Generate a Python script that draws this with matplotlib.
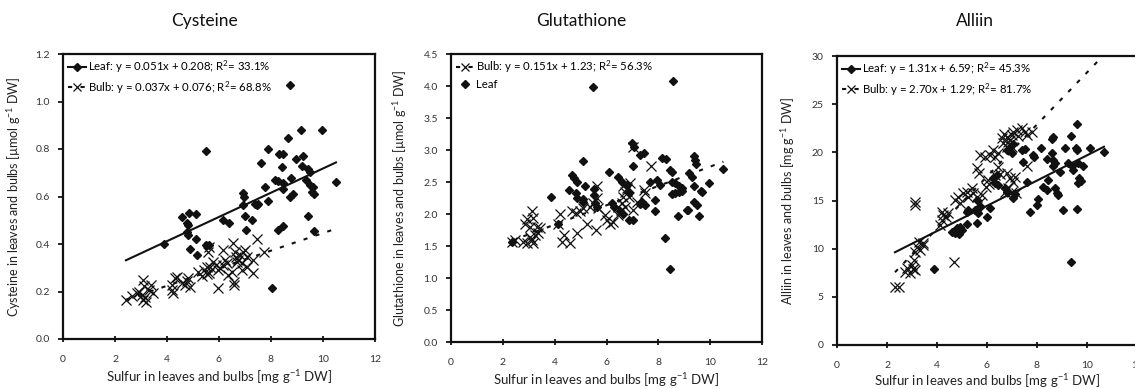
import numpy as np
import matplotlib
matplotlib.use('Agg')
import matplotlib.pyplot as plt
from matplotlib.lines import Line2D

plt.rcParams['font.family'] = ['Lato', 'DejaVu Sans']
plt.rcParams['mathtext.fontset'] = 'custom'
plt.rcParams['mathtext.rm'] = 'Lato'
plt.rcParams['mathtext.default'] = 'regular'

# ---------------- data ----------------
titles = ["Cysteine", "Glutathione", "Alliin"]
ylabels = ["Cysteine in leaves and bulbs [µmol g$^{-1}$ DW]",
           "Glutathione in leaves and bulbs [µmol g$^{-1}$ DW]",
           "Alliin in leaves and bulbs [mg g$^{-1}$ DW]"]
xlabel = "Sulfur in leaves and bulbs [mg g$^{-1}$ DW]"
ymax = [1.2, 4.5, 30]
ystep = [0.2, 0.5, 5]
ydec = [1, 1, 0]

# fits: slope, intercept, R2 (%)
leaf_fit = [("0.051", "0.208", "33.1"), None, ("1.31", "6.59", "45.3")]
bulb_fit = [("0.037", "0.076", "68.8"), ("0.151", "1.23", "56.3"), ("2.70", "1.29", "81.7")]

cys_leaf_x = [8.73, 9.14, 9.95, 8.67, 5.5, 7.9, 8.32, 8.47, 7.62, 8.96, 9.22, 8.41, 9.2,
              9.43, 9.5, 8.77, 8.15, 8.26, 8.47, 9.33, 9.5, 9.6, 10.5, 7.77, 8.47, 6.93,
              6.96, 8.73, 8.86, 9.56, 9.65, 6.93, 7.38, 7.45, 7.51, 7.87, 4.56, 4.85, 5.1,
              4.78, 4.82, 6.17, 6.4, 7.0, 7.28, 4.76, 4.8, 7.04, 8.45, 8.28, 9.43, 9.65,
              3.9, 5.1, 4.88, 5.17, 5.5, 5.63, 8.03]
cys_leaf_y = [1.07, 0.88, 0.88, 0.845, 0.79, 0.80, 0.78, 0.78, 0.74, 0.76, 0.77, 0.725, 0.73,
              0.715, 0.705, 0.68, 0.67, 0.665, 0.655, 0.67, 0.65, 0.64, 0.66, 0.64, 0.63, 0.615,
              0.60, 0.60, 0.61, 0.62, 0.61, 0.565, 0.57, 0.565, 0.57, 0.58, 0.515, 0.53, 0.525,
              0.49, 0.48, 0.50, 0.487, 0.52, 0.50, 0.45, 0.44, 0.46, 0.475, 0.46, 0.52, 0.456,
              0.40, 0.42, 0.378, 0.354, 0.396, 0.396, 0.213]
cys_bulb_x = [2.42, 2.64, 2.83, 2.94, 3.03, 3.09, 3.15, 3.19, 3.09, 3.13, 3.32, 3.47, 3.37,
              4.18, 4.18, 4.31, 4.37, 4.24, 4.56, 4.69, 4.82, 4.88, 4.78, 5.2, 5.33, 5.42,
              5.55, 5.53, 5.65, 5.63, 5.63, 5.59, 5.76, 5.88, 5.95, 6.04, 5.97, 6.17, 6.23,
              6.3, 6.17, 6.55, 6.62, 6.65, 6.68, 6.74, 6.81, 6.87, 6.93, 7.0, 7.06, 6.36,
              6.49, 6.58, 6.58, 6.87, 7.06, 7.32, 7.3, 7.45, 7.73]
cys_bulb_y = [0.164, 0.18, 0.192, 0.2, 0.185, 0.164, 0.178, 0.157, 0.25, 0.223, 0.206, 0.195,
              0.227, 0.227, 0.206, 0.256, 0.262, 0.195, 0.234, 0.227, 0.256, 0.22, 0.244, 0.283,
              0.265, 0.29, 0.302, 0.274, 0.304, 0.28, 0.389, 0.368, 0.325, 0.31, 0.29, 0.298,
              0.213, 0.375, 0.333, 0.319, 0.31, 0.403, 0.368, 0.347, 0.325, 0.333, 0.354, 0.319,
              0.368, 0.375, 0.347, 0.27, 0.283, 0.241, 0.227, 0.29, 0.304, 0.333, 0.28, 0.42,
              0.368]

glu_leaf_x = [5.46, 8.58, 6.98, 7.07, 7.3, 7.45, 8.13, 8.3, 5.08, 7.04, 8.46, 8.52, 9.38,
              9.42, 9.46, 9.2, 9.3, 10.51, 6.11, 4.66, 4.75, 4.88, 5.17, 4.57, 4.83, 3.85,
              5.08, 5.5, 5.52, 6.46, 6.59, 6.78, 6.88, 7.68, 7.94, 8.07, 8.52, 8.65, 8.78,
              8.91, 8.52, 8.65, 8.78, 8.91, 9.38, 9.64, 9.97, 7.88, 7.36, 7.3, 9.38, 9.49,
              9.14, 9.55, 8.74, 7.01, 8.26, 8.46, 4.14, 2.34, 5.56, 5.63, 6.2, 6.29, 6.53,
              6.63, 4.85, 5.1, 6.85, 7.49, 7.88, 9.1, 9.68]
glu_leaf_y = [3.99, 4.08, 3.11, 3.04, 2.92, 2.96, 2.88, 2.86, 2.83, 2.75, 2.69, 2.65, 2.9,
              2.84, 2.78, 2.64, 2.58, 2.7, 2.66, 2.61, 2.56, 2.5, 2.44, 2.37, 2.33, 2.26,
              2.23, 2.39, 2.3, 2.58, 2.5, 2.45, 2.35, 2.5, 2.53, 2.45, 2.5, 2.48, 2.44,
              2.4, 2.32, 2.33, 2.35, 2.36, 2.44, 2.36, 2.48, 2.22, 2.19, 2.16, 2.19, 2.14,
              2.07, 1.97, 1.97, 1.9, 1.62, 1.14, 1.85, 1.57, 2.17, 2.11, 2.17, 2.11, 2.04,
              2.0, 2.25, 2.19, 1.9, 2.14, 2.04, 2.06, 2.35]
glu_bulb_x = [2.34, 2.47, 2.79, 2.92, 2.86, 2.95, 3.12, 3.18, 3.05, 3.31, 3.37, 3.44, 3.12,
              3.16, 3.03, 3.24, 4.14, 4.21, 4.36, 4.27, 4.59, 4.85, 4.66, 4.83, 4.98, 5.11,
              5.26, 5.6, 5.37, 5.49, 5.65, 5.63, 5.69, 5.95, 6.01, 6.14, 6.27, 6.46, 6.55,
              6.59, 6.65, 6.72, 6.78, 6.91, 6.88, 6.63, 6.72, 6.46, 7.01, 7.01, 7.17, 7.43,
              7.71, 7.49]
glu_bulb_y = [1.57, 1.6, 1.57, 1.54, 1.85, 1.92, 2.04, 1.93, 1.80, 1.80, 1.70, 1.78, 1.59,
              1.54, 1.64, 1.67, 1.85, 2.0, 1.67, 1.57, 1.55, 1.71, 2.04, 2.02, 2.05, 2.09,
              1.85, 1.75, 2.11, 2.17, 2.43, 2.25, 2.09, 1.98, 1.91, 1.85, 1.88, 1.98, 2.06,
              2.17, 2.27, 2.35, 2.4, 2.48, 2.27, 2.43, 2.11, 2.11, 3.04, 2.06, 2.19, 2.38,
              2.75, 2.33]

all_leaf_x = [9.59, 8.59, 8.65, 9.35, 8.15, 9.12, 9.56, 9.61, 10.12, 10.68, 7.39, 7.52, 7.85,
              7.88, 8.39, 8.59, 8.63, 8.72, 8.65, 8.92, 9.25, 9.39, 9.65, 9.83, 9.69, 9.75,
              9.63, 9.45, 8.45, 8.25, 8.39, 8.72, 8.79, 8.85, 7.59, 8.05, 7.99, 7.72, 9.03,
              9.59, 9.35, 7.05, 7.1, 6.25, 6.41, 6.32, 6.45, 6.72, 6.79, 6.79, 6.92, 6.99,
              7.05, 7.45, 5.59, 5.72, 5.52, 5.65, 5.59, 5.19, 4.92, 4.79, 4.72, 4.59, 4.99,
              4.8, 4.88, 5.19, 5.25, 5.99, 6.12, 3.88]
all_leaf_y = [22.95, 21.36, 21.57, 21.7, 20.5, 20.5, 20.5, 20.25, 20.5, 20.07, 20.2, 20.3, 19.7,
              19.55, 19.3, 19.9, 19.2, 18.87, 18.6, 18.0, 18.87, 18.6, 18.87, 18.6, 17.3, 17.06,
              16.85, 18.17, 17.13, 16.44, 16.1, 16.27, 15.75, 15.58, 16.96, 15.13, 14.54, 13.85,
              14.02, 14.09, 8.58, 15.23, 15.7, 17.3, 17.65, 16.8, 16.6, 16.27, 15.92, 20.25,
              20.6, 19.9, 20.9, 19.0, 15.06, 14.36, 14.02, 13.68, 12.7, 12.56, 12.28, 11.76,
              11.6, 11.76, 11.94, 12.1, 11.5, 13.85, 14.02, 13.33, 14.2, 7.86]
all_bulb_x = [2.32, 2.49, 2.72, 2.81, 2.92, 3.03, 3.12, 2.99, 3.08, 3.12, 3.12, 3.12, 3.21,
              3.32, 3.43, 3.29, 3.45, 4.19, 4.25, 4.36, 4.45, 4.19, 4.12, 4.72, 4.85, 4.92,
              5.05, 5.19, 5.25, 5.39, 5.45, 5.61, 5.69, 5.59, 5.72, 5.79, 5.72, 5.92, 6.12,
              6.32, 6.45, 6.25, 6.45, 6.52, 6.32, 6.05, 5.96, 6.09, 6.59, 6.68, 6.79, 6.85,
              6.92, 6.99, 7.05, 7.19, 7.25, 7.39, 7.52, 7.59, 7.79, 6.99, 6.79, 6.65, 6.79,
              6.92, 7.03, 7.12, 6.72, 6.85, 6.99, 7.16, 7.61, 4.68]
all_bulb_y = [6.05, 6.05, 7.61, 7.96, 7.44, 7.86, 7.79, 8.31, 8.83, 14.88, 14.54, 9.69, 10.2,
              9.86, 10.38, 10.73, 10.62, 12.98, 13.5, 13.32, 13.68, 13.85, 12.46, 15.06, 15.4,
              14.71, 15.75, 15.92, 15.4, 16.27, 15.75, 18.35, 17.9, 15.4, 14.88, 15.58, 19.73,
              19.55, 19.73, 19.55, 19.9, 20.25, 18.5, 17.8, 17.65, 17.13, 16.44, 16.72, 21.46,
              21.91, 21.63, 21.1, 21.28, 21.8, 22.15, 22.33, 21.7, 22.5, 22.15, 21.8, 22.15,
              20.6, 20.6, 20.94, 17.83, 17.3, 16.96, 17.48, 15.92, 16.27, 15.92, 15.75, 18.59,
              8.58]

leaf_x = [cys_leaf_x, glu_leaf_x, all_leaf_x]
leaf_y = [cys_leaf_y, glu_leaf_y, all_leaf_y]
bulb_x = [cys_bulb_x, glu_bulb_x, all_bulb_x]
bulb_y = [cys_bulb_y, glu_bulb_y, all_bulb_y]

# ---------------- layout (pixels -> figure fractions) ----------------
W, H = 1135, 389
boxes = [(63, 375, 54, 339), (451, 762, 54, 342), (837, 1137, 56, 345)]
title_x = [205, 581, 975]
ylab_x = [23, 409, 797]
xlab_pad = [3, 3, 1.5]

fig = plt.figure(figsize=(W / 100, H / 100), dpi=100)

ink = '#111111'
dash = (0, (2.0, 4.0))
for i in range(3):
    l, r, t, b = boxes[i]
    ax = fig.add_axes([l / W, (H - b) / H, (r - l) / W, (b - t) / H])
    ax.plot(bulb_x[i], bulb_y[i], ls='none', marker='x', ms=7, mew=0.9, color=ink)
    ax.plot(leaf_x[i], leaf_y[i], ls='none', marker='D', ms=3.8, color=ink)

    # trendlines span the whole sulfur range of the panel
    allx = leaf_x[i] + bulb_x[i]
    xs = np.array([min(allx), max(allx)])

    handles, labels = [], []
    lf = leaf_fit[i]
    bf = bulb_fit[i]
    if lf is not None:
        ax.plot(xs, float(lf[0]) * xs + float(lf[1]), color=ink, lw=1.5)
        handles.append(Line2D([], [], color=ink, lw=1.5, marker='D', ms=3.8))
        labels.append(f"Leaf: y = {lf[0]}x + {lf[1]}; R$^2$= {lf[2]}%")
    ax.plot(xs, float(bf[0]) * xs + float(bf[1]), color=ink, lw=1.5, ls=dash)
    handles.append(Line2D([], [], color=ink, lw=1.5, ls=dash, marker='x', ms=6, mew=0.9))
    labels.append(f"Bulb: y = {bf[0]}x + {bf[1]}; R$^2$= {bf[2]}%")
    if lf is None:
        handles.append(Line2D([], [], ls='none', color=ink, marker='D', ms=3.8))
        labels.append("Leaf")

    ax.legend(handles, labels, loc='upper left', frameon=False, fontsize=8.2,
              handlelength=1.6, handletextpad=0.2, borderaxespad=0.2, labelspacing=0.35,
              borderpad=0.2)

    ax.set_xlim(0, 12)
    ax.set_ylim(0, ymax[i])
    ax.set_xticks(np.arange(0, 13, 2))
    yt = np.arange(0, ymax[i] + 1e-9, ystep[i])
    ax.set_yticks(yt)
    ax.set_yticklabels([f"{v:.{ydec[i]}f}" for v in yt])
    for s in ax.spines.values():
        s.set_linewidth(1.6)
        s.set_color(ink)
    ax.tick_params(axis='x', direction='inout', length=5, width=1.2, pad=9,
                   labelsize=7.5, labelcolor='#333333')
    ax.tick_params(axis='y', direction='out', length=3.5, width=1.2, pad=6,
                   labelsize=7.5, labelcolor='#333333')
    ax.set_xlabel(xlabel, fontsize=9.5, labelpad=xlab_pad[i], color='#222222')
    ax.set_ylabel(ylabels[i], fontsize=9, color='#222222')
    ax.yaxis.set_label_coords((ylab_x[i] - l) / (r - l), 0.5)

    fig.text(title_x[i] / W, (H - 21) / H, titles[i], ha='center', va='center',
             fontsize=12.5, color=ink)

fig.savefig('out.png', dpi=100)
